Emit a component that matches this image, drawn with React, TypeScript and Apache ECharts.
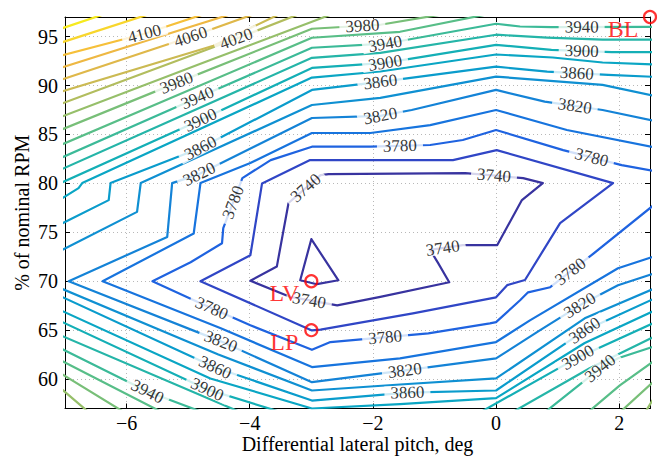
import React, { useEffect, useRef } from 'react';
import * as echarts from 'echarts';

type Pt = [number, number];
type Line = Pt[];

// Contour polylines: [differential lateral pitch (deg), % of nominal RPM]
const C3740: Line[] = [
  [[-2.72, 80.95], [-0.5, 81.05], [0.44, 80.54], [0.76, 80.03], [0.42, 78.3], [0.02, 73.7], [-0.54, 73.7], [-1.07, 73.2], [-0.94, 71.85], [-0.76, 69.9], [-1.88, 68.4], [-2.58, 67.54], [-3.34, 68.4], [-3.99, 70.05], [-3.56, 71.5], [-3.37, 78.0], [-2.85, 80.85], [-2.72, 80.95]],
  [[-3.0, 74.3], [-2.56, 70.1], [-2.91, 69.7], [-3.18, 70.1], [-3.0, 74.3]],
];
const C3760: Line[] = [
  [[-4.8, 70.0], [-3.99, 72.66], [-3.8, 80.0], [-3.02, 82.38], [-0.7, 82.38], [0.01, 83.4], [1.9, 80.03], [1.04, 75.94], [0.47, 70.13], [0.18, 69.6], [0.0, 68.36], [-1.35, 66.72], [-2.85, 65.06], [-2.99, 64.98], [-4.8, 70.0]],
];
const C3780: Line[] = [
  [[2.58, 81.26], [2.04, 81.87], [1.09, 83.4], [0, 85.45], [-0.54, 84.43], [-1.07, 83.92], [-2.04, 83.75], [-2.99, 83.75], [-3.66, 82.38], [-4.12, 80.54], [-4.43, 75.42], [-4.45, 73.89], [-4.96, 71.94], [-5.58, 70.0], [-4.8, 67.75], [-3.99, 65.5], [-2.99, 63.0], [-2.69, 63.79], [-1.1, 64.68], [-0.1, 65.7], [0, 65.83], [0.39, 68.06], [0.52, 68.87], [0.88, 69.39], [1.55, 72.66], [2.58, 77.88]],
];
const C3800: Line[] = [
  [[2.58, 83.66], [1.15, 85.45], [0, 87.5], [-1.07, 85.96], [-2.04, 85.15], [-2.99, 85.15], [-3.99, 82.08], [-4.8, 80.03], [-4.91, 74.88], [-6.39, 70.0], [-4.47, 65.19], [-2.99, 61.23], [-1.56, 62.12], [0, 63.79], [0.55, 66.0], [1.98, 71.33], [2.58, 72.56]],
];
const C3820: Line[] = [
  [[2.58, 86.38], [1.73, 87.5], [0.79, 88.35], [0, 89.55], [-1.37, 87.5], [-1.88, 86.89], [-2.99, 86.68], [-4.82, 80.95], [-5.26, 80.03], [-5.34, 74.53], [-6.94, 70.0], [-4.47, 63.86], [-2.99, 59.69], [-1.48, 60.89], [0, 62.12], [0.71, 64.98], [1.36, 67.54], [1.98, 69.59], [2.58, 70.82]],
];
const C3840: Line[] = [
  [[2.58, 88.94], [1.73, 90.06], [0, 90.91], [-1.88, 88.73], [-2.99, 88.01], [-5.77, 80.03], [-5.83, 77.09], [-7.07, 73.13]],
  [[-7.07, 69.28], [-4.51, 62.52], [-2.99, 58.84], [-1.56, 59.45], [0, 60.07], [1.44, 66.21], [2.58, 69.28]],
];
const C3860: Line[] = [
  [[2.58, 90.88], [1.82, 91.09], [0.83, 91.42], [0, 91.93], [-1.88, 90.37], [-2.99, 89.55], [-4.8, 83.61], [-6.26, 80.03], [-6.29, 78.29], [-7.07, 75.83]],
  [[-7.07, 68.46], [-4.56, 61.19], [-2.99, 57.81], [-1.44, 58.63], [0, 58.84], [1.44, 64.98], [2.58, 68.26]],
];
const C3880: Line[] = [
  [[2.58, 92.14], [1.73, 92.35], [0.92, 92.86], [0, 93.17], [-1.88, 91.43], [-2.99, 90.81], [-6.72, 80.03], [-6.78, 79.52], [-7.07, 78.39]],
  [[-7.07, 67.03], [-4.64, 60.07], [-2.99, 57.0], [-1.56, 57.45], [0, 58.06], [1.44, 63.69], [2.58, 67.03]],
];
const C3900: Line[] = [
  [[2.58, 93.41], [1.88, 93.41], [0.9, 93.64], [0, 94.15], [-1.8, 92.31], [-2.99, 91.8], [-4.8, 86.48], [-7.07, 80.03]],
  [[-7.07, 65.91], [-4.69, 58.95], [-3.53, 56.7]],
  [[-0.26, 56.6], [1.33, 62.22], [2.58, 65.8]],
];
const C3920: Line[] = [
  [[2.58, 94.68], [1.73, 94.68], [0.83, 94.89], [0, 95.19], [-1.88, 93.34], [-2.99, 92.83], [-7.07, 81.4]],
  [[-7.07, 64.47], [-4.18, 56.7]],
  [[0.26, 56.6], [1.52, 61.11], [2.58, 64.37]],
];
const C3940: Line[] = [
  [[2.58, 96.0], [0.9, 95.97], [0.39, 96.03], [0, 96.31], [-1.8, 94.27], [-2.99, 93.86], [-4.85, 88.74], [-7.07, 82.6]],
  [[-7.07, 63.14], [-5.66, 58.74], [-4.8, 56.7]],
  [[0.79, 56.6], [1.28, 59.06], [1.69, 61.11], [1.98, 62.13], [2.58, 63.36]],
];
const C3960: Line[] = [
  [[-7.07, 83.93], [-2.99, 94.88], [-1.56, 95.49], [-0.18, 97.23]],
  [[-7.07, 61.92], [-5.45, 56.7]],
  [[1.49, 56.6], [2.01, 59.36], [2.58, 61.92]],
];
const C3980: Line[] = [
  [[-7.07, 85.46], [-5.19, 90.27], [-2.99, 95.8], [-1.88, 96.21], [-0.91, 97.23]],
  [[-7.07, 60.59], [-6.06, 56.7]],
  [[2.01, 56.6], [2.58, 59.87]],
];
const C4000: Line[] = [
  [[-7.07, 86.79], [-4.8, 92.22], [-2.99, 96.52], [-2.69, 97.23]],
  [[-7.07, 59.06], [-6.63, 56.7]],
  [[2.42, 56.6], [2.58, 58.24]],
];
const C4020: Line[] = [[[-7.07, 88.12], [-4.22, 94.78], [-3.18, 97.34]]];
const C4040: Line[] = [[[-7.07, 89.35], [-4.59, 94.06], [-3.5, 97.34]]];
const C4060: Line[] = [[[-7.07, 90.58], [-4.96, 94.98], [-3.91, 97.34]]];
const C4080: Line[] = [[[-7.07, 91.81], [-4.96, 96.0], [-4.28, 97.34]]];
const C4100: Line[] = [[[-7.07, 93.04], [-5.71, 95.29], [-4.72, 97.34]]];
const C4120: Line[] = [[[-7.07, 94.37], [-5.61, 97.34]]];
const C4140: Line[] = [[[-7.07, 95.8], [-6.34, 97.34]]];

const LEVELS = [3740, 3760, 3780, 3800, 3820, 3840, 3860, 3880, 3900, 3920, 3940, 3960, 3980, 4000, 4020, 4040, 4060, 4080, 4100, 4120, 4140];

const CONTOURS: Record<number, Line[]> = {
  3740: C3740, 3760: C3760, 3780: C3780, 3800: C3800, 3820: C3820, 3840: C3840, 3860: C3860,
  3880: C3880, 3900: C3900, 3920: C3920, 3940: C3940, 3960: C3960, 3980: C3980, 4000: C4000,
  4020: C4020, 4040: C4040, 4060: C4060, 4080: C4080, 4100: C4100, 4120: C4120, 4140: C4140,
};

// Inline level labels: [level, pitch, rpm]
const CONTOUR_LABELS: [number, number, number][] = [
  [4100, -5.71, 95.29], [4060, -4.96, 94.98], [4020, -4.22, 94.78],
  [3980, -5.19, 90.27], [3940, -4.85, 88.74], [3900, -4.8, 86.48], [3860, -4.8, 83.61], [3820, -4.82, 80.95],
  [3980, -2.17, 96.0], [3940, -1.8, 94.27], [3900, -1.8, 92.32], [3860, -1.88, 90.37], [3820, -1.88, 86.89], [3780, -1.56, 83.72],
  [3940, 1.39, 96.0], [3900, 1.39, 93.44], [3860, 1.31, 91.09], [3820, 1.28, 87.91], [3780, 1.56, 82.89],
  [3780, -4.28, 78.09], [3740, -3.13, 79.8], [3740, -0.03, 81.05], [3740, -0.86, 73.17], [3740, -3.05, 67.54], [3780, 1.28, 70.41],
  [3780, -4.64, 66.94], [3820, -4.47, 63.87], [3860, -4.56, 61.21], [3900, -4.69, 58.95], [3940, -5.66, 58.75],
  [3780, -1.8, 64.17], [3820, -1.48, 60.79], [3860, -1.44, 58.74],
  [3820, 1.36, 67.54], [3860, 1.44, 64.98], [3900, 1.33, 62.21], [3940, 1.69, 61.11],
];

// Marked operating points
const MARK_NAMES = ['LV', 'LP', 'BL'];
const MARK_PITCH = [-3, -3, 2.5];
const MARK_RPM = [70, 65, 97];

const LEVEL_COLORS: Record<number, string> = {
  3740: '#38339f', 3760: '#3046c6', 3780: '#1f63e0', 3800: '#1774de', 3820: '#1483d7',
  3840: '#0f90d2', 3860: '#0a9ccc', 3880: '#0aa6c4', 3900: '#14afb6', 3920: '#25b5a8',
  3940: '#3cba98', 3960: '#58be88', 3980: '#78bf78', 4000: '#96bf6a', 4020: '#b2bd5e',
  4040: '#cbba53', 4060: '#dfb84a', 4080: '#eeb843', 4100: '#f6c03a', 4120: '#f8d62c', 4140: '#f6ea1e',
};

const FONT = "'Liberation Serif', 'Times New Roman', serif";

export default function App() {
  const ref = useRef<HTMLDivElement>(null);

  useEffect(() => {
    const el = ref.current;
    if (!el) return;
    const chart = echarts.init(el, undefined, { renderer: 'svg' });

    const lineSeries: any[] = [];
    LEVELS.forEach((lev) => {
      CONTOURS[lev].forEach((pts) => {
        lineSeries.push({
          type: 'line',
          data: pts,
          symbol: 'none',
          showSymbol: false,
          silent: true,
          clip: true,
          z: 2,
          lineStyle: { color: LEVEL_COLORS[lev], width: 2.2, join: 'round', cap: 'round' },
        });
      });
    });

    const axisCommonX = {
      type: 'value' as const,
      min: -7,
      max: 2.5,
      splitNumber: 5,
      minInterval: 2,
      maxInterval: 2,
      axisLine: { show: true, onZero: false, lineStyle: { color: '#000', width: 1 } },
      axisTick: { show: true, inside: true, length: 5, lineStyle: { color: '#000' } },
    };
    const axisCommonY = {
      type: 'value' as const,
      min: 57,
      max: 97,
      splitNumber: 8,
      minInterval: 5,
      maxInterval: 5,
      axisLine: { show: true, onZero: false, lineStyle: { color: '#000', width: 1 } },
      axisTick: { show: true, inside: true, length: 5, lineStyle: { color: '#000' } },
    };

    const option: any = {
      animation: false,
      backgroundColor: '#fff',
      grid: { left: 65, right: 17, top: 17, bottom: 49.5, containLabel: false, outerBoundsMode: 'none' },
      xAxis: [
        {
          ...axisCommonX,
          position: 'bottom',
          name: 'Differential lateral pitch, deg',
          nameLocation: 'middle',
          nameGap: 25,
          nameMoveOverlap: false,
          nameTextStyle: { fontFamily: FONT, fontSize: 20, color: '#000', lineHeight: 20 },
          axisLabel: {
            margin: 4,
            fontFamily: FONT,
            fontSize: 20,
            lineHeight: 20,
            color: '#000',
            formatter: (v: number) =>
              Math.abs(v - Math.round(v)) < 1e-6 && Math.round(v) % 2 === 0 ? String(Math.round(v)).replace('-', '\u2212') : '',
          },
          splitLine: { show: true, lineStyle: { color: '#b8b8b8', type: [1, 3], width: 1 } },
        },
        {
          ...axisCommonX,
          position: 'top',
          axisLabel: { show: false },
          splitLine: { show: false },
        },
      ],
      yAxis: [
        {
          ...axisCommonY,
          position: 'left',
          name: '% of nominal RPM',
          nameLocation: 'middle',
          nameGap: 33,
          nameMoveOverlap: false,
          nameRotate: 90,
          nameTextStyle: { fontFamily: FONT, fontSize: 20, color: '#000' },
          axisLabel: {
            margin: 7,
            fontFamily: FONT,
            fontSize: 20,
            color: '#000',
            formatter: (v: number) => (Math.abs(v % 5) < 1e-6 ? String(v) : ''),
          },
          splitLine: { show: true, lineStyle: { color: '#b8b8b8', type: [1, 3], width: 1 } },
        },
        {
          ...axisCommonY,
          position: 'right',
          axisLabel: { show: false },
          splitLine: { show: false },
        },
      ],
      series: [
        ...lineSeries,
        {
          id: 'contour-labels',
          type: 'scatter',
          symbol: 'circle',
          symbolSize: 1,
          silent: true,
          z: 5,
          itemStyle: { color: 'rgba(0,0,0,0)' },
          label: {
            show: true,
            position: 'inside',
            formatter: (p: any) => p.name,
            fontFamily: FONT,
            fontSize: 17,
            color: '#000',
            backgroundColor: '#fff',
            padding: [0, 6],
            lineHeight: 13,
          },
          data: [],
        },
        {
          type: 'scatter',
          symbol: 'circle',
          symbolSize: 12,
          clip: false,
          silent: true,
          z: 8,
          itemStyle: { color: 'rgba(0,0,0,0)', borderColor: '#ff0000', borderWidth: 2.2 },
          label: {
            show: true,
            position: 'inside',
            offset: [-27, 12],
            formatter: (p: any) => p.name,
            fontFamily: FONT,
            fontSize: 24,
            color: '#ff0000',
          },
          data: MARK_NAMES.map((n, i) => ({ name: n, value: [MARK_PITCH[i], MARK_RPM[i]] })),
        },
      ],
    };

    chart.setOption(option);

    // Snap each level label onto its contour and align it with the local line direction
    const toPx = (p: number[]) => chart.convertToPixel({ gridIndex: 0 }, p) as unknown as number[];
    const labelData = CONTOUR_LABELS.map(([lev, x, y]) => {
      const target = toPx([x, y]);
      let bestD = Infinity;
      let bestP = target;
      let bestA = 0;
      CONTOURS[lev].forEach((pts) => {
        for (let i = 0; i < pts.length - 1; i++) {
          const a = toPx(pts[i]);
          const b = toPx(pts[i + 1]);
          const dx = b[0] - a[0];
          const dy = b[1] - a[1];
          const len2 = dx * dx + dy * dy || 1;
          let t = ((target[0] - a[0]) * dx + (target[1] - a[1]) * dy) / len2;
          t = Math.max(0, Math.min(1, t));
          const q = [a[0] + t * dx, a[1] + t * dy];
          const d = Math.hypot(q[0] - target[0], q[1] - target[1]);
          if (d < bestD) {
            let ang = (-Math.atan2(dy, dx) * 180) / Math.PI;
            if (ang > 90) ang -= 180;
            if (ang < -90) ang += 180;
            bestD = d;
            bestP = q;
            bestA = ang;
          }
        }
      });
      const v = chart.convertFromPixel({ gridIndex: 0 }, bestP) as unknown as number[];
      return { name: String(lev), value: v, label: { rotate: bestA } };
    });

    chart.setOption({ series: [{ id: 'contour-labels', data: labelData }] });

    return () => {
      chart.dispose();
    };
  }, []);

  return (
    <div
      ref={ref}
      style={{ position: 'fixed', left: 0, top: 0, width: 667, height: 458, background: '#fff' }}
    />
  );
}
